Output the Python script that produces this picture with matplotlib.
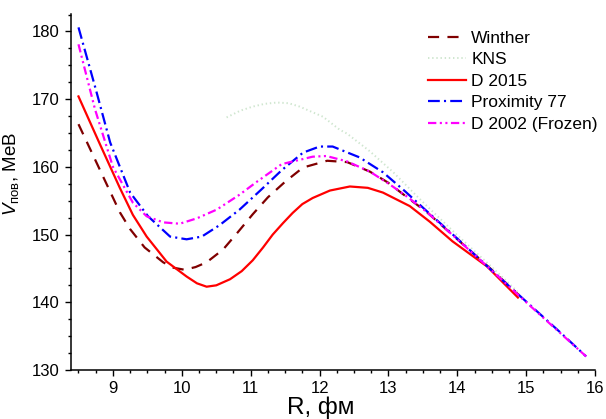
import matplotlib
matplotlib.use('Agg')
import matplotlib.pyplot as plt
from matplotlib.ticker import MultipleLocator

plt.rcParams['font.family'] = ['Liberation Sans', 'DejaVu Sans']
plt.rcParams['mathtext.fontset'] = 'custom'
plt.rcParams['mathtext.rm'] = 'Liberation Sans'
plt.rcParams['mathtext.it'] = 'Liberation Sans:italic'
plt.rcParams['lines.scale_dashes'] = False

# данные
winther_r = [8.5, 8.8, 9.1, 9.25, 9.46, 9.73, 9.88, 10.04, 10.2, 10.36, 10.6, 10.81, 11.03, 11.25,
             11.5, 11.76, 12.11, 12.4, 12.73, 12.99, 13.31, 13.56, 14.0, 14.5, 14.9]
winther_v = [166.3, 159.8, 153.3, 150.8, 148.1, 145.9, 145.1, 144.8, 145.2, 145.9, 147.8, 150.3, 153.0, 155.5,
             157.8, 159.9, 160.9, 160.7, 159.3, 157.7, 155.2, 153.3, 149.3, 144.8, 141.0]

kns_r = [10.65, 10.85, 11.03, 11.2, 11.38, 11.55, 11.71, 12.05, 12.29, 12.4, 12.73, 13.07, 13.41, 13.56,
         14.0, 14.5, 14.9]
kns_v = [167.3, 168.3, 168.9, 169.3, 169.5, 169.4, 168.9, 167.4, 165.5, 164.9, 162.3, 159.2, 155.7, 154.2,
         149.9, 145.2, 141.3]

d2015_r = [8.5, 8.8, 9.1, 9.29, 9.49, 9.78, 10.07, 10.22, 10.36, 10.5, 10.7, 10.87, 11.03, 11.18, 11.32,
           11.47, 11.61, 11.75, 11.9, 12.15, 12.44, 12.7, 12.92, 13.31, 13.6, 13.93, 14.43, 14.88]
d2015_v = [170.4, 163.6, 156.9, 152.9, 149.7, 146.0, 143.8, 142.8, 142.3, 142.5, 143.4, 144.6, 146.2, 148.1, 150.0,
           151.7, 153.2, 154.5, 155.4, 156.5, 157.1, 156.9, 156.2, 154.2, 151.9, 149.0, 145.3, 140.7]

prox_r = [8.5, 8.75, 8.96, 9.25, 9.51, 9.83, 10.07, 10.29, 10.55, 10.84, 11.16, 11.45, 11.76, 12.0,
          12.19, 12.58, 12.92, 13.24, 13.53, 14.0, 14.5, 15.0, 15.5, 15.87]
prox_v = [180.6, 171.5, 163.6, 156.2, 152.7, 149.7, 149.3, 149.7, 151.4, 153.7, 156.7, 159.5, 162.1, 163.0,
          163.0, 161.4, 159.2, 156.4, 153.7, 149.4, 144.7, 140.1, 135.5, 132.0]

d2002_r = [8.5, 8.74, 9.0, 9.29, 9.49, 9.73, 9.97, 10.22, 10.51, 10.84, 11.09, 11.45, 11.9, 12.1,
           12.4, 12.73, 13.02, 13.27, 13.56, 14.0, 14.5, 15.0, 15.5, 15.87]
d2002_v = [178.1, 168.5, 160.0, 154.7, 152.7, 151.8, 151.6, 152.4, 153.7, 155.9, 157.8, 160.4, 161.5, 161.6,
           160.8, 159.3, 157.4, 155.6, 153.3, 149.3, 144.7, 140.0, 135.4, 132.0]

fig = plt.figure(figsize=(6.06, 4.19), dpi=100)
ax = fig.add_axes([0.117, 0.117, 0.865, 0.85])

ax.plot(winther_r, winther_v, color='#800000', lw=1.6, linestyle=(0, (8, 6)), label='Winther')
ax.plot(kns_r, kns_v, color='#cfe6cf', lw=1.4, linestyle=(0, (1, 2)), label='KNS')
ax.plot(d2015_r, d2015_v, color='#ff0000', lw=1.6, label='D 2015')
ax.plot(prox_r, prox_v, color='#0000ff', lw=1.6, linestyle=(0, (8.5, 3, 1.5, 3)), label='Proximity 77')
ax.plot(d2002_r, d2002_v, color='#ff00ff', lw=1.6, linestyle=(0, (6, 2.5, 1.5, 2.5, 1.5, 2.5)),
        label='D 2002 (Frozen)')

ax.set_xlim(8.39, 16.0)
ax.set_ylim(130, 182.6)
ax.xaxis.set_major_locator(MultipleLocator(1))
ax.xaxis.set_minor_locator(MultipleLocator(0.25))
ax.yaxis.set_major_locator(MultipleLocator(10))
ax.yaxis.set_minor_locator(MultipleLocator(2.5))
ax.tick_params(which='major', direction='out', length=4.5, width=1, labelsize=12)
ax.tick_params(which='minor', direction='out', length=2.5, width=1)

for s in ['top', 'right']:
    ax.spines[s].set_visible(False)
for s in ['left', 'bottom']:
    ax.spines[s].set_linewidth(1.1)

ax.set_xlabel('R, фм', fontsize=17.5, labelpad=-3)
ax.xaxis.set_label_coords(0.477, -0.075)
ax.set_ylabel(r'$V_{\mathrm{пов}}$, МеВ', fontsize=13.5)
ax.yaxis.set_label_coords(-0.095, 0.55)

ax.legend(loc='upper right', bbox_to_anchor=(1.035, 0.997), frameon=False, fontsize=12.5,
          handlelength=2.2, handletextpad=0.3, labelspacing=0.37)

fig.savefig('out.png', dpi=100)
